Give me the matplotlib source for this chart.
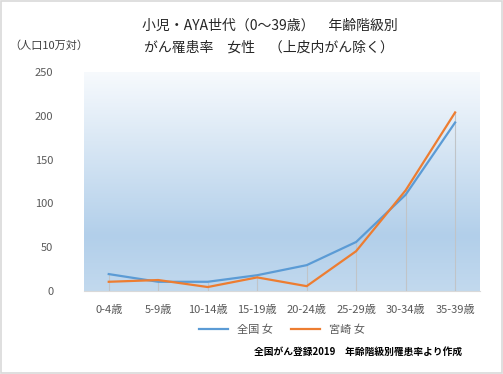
import numpy as np
import matplotlib.pyplot as plt
from matplotlib.colors import LinearSegmentedColormap
from matplotlib.patches import Rectangle

plt.rcParams['font.family'] = ['Noto Sans CJK JP', 'DejaVu Sans']

age_groups = ['0-4歳', '5-9歳', '10-14歳', '15-19歳', '20-24歳', '25-29歳', '30-34歳', '35-39歳']
zenkoku = [19.3, 10.5, 10.5, 18, 29.5, 56, 110, 192.5]
miyazaki = [10.5, 12.5, 4.5, 15.5, 5.5, 45.5, 115, 204]
series_names = ['全国 女', '宮崎 女']

fig = plt.figure(figsize=(5.03, 3.74), dpi=100)
ax = fig.add_axes([0.167, 0.222, 0.787, 0.585])

x = np.arange(len(age_groups))

# background gradient (white at top -> light blue -> slightly lighter at bottom)
cmap = LinearSegmentedColormap.from_list('bg', [(0.0, '#c2d9ee'), (0.25, '#b2cfea'), (1.0, '#f7fafd')])
grad = np.linspace(0, 1, 256).reshape(-1, 1)
ax.imshow(grad, cmap=cmap, aspect='auto', extent=[0, 1, 0, 1], transform=ax.transAxes,
          origin='lower', zorder=0)

# drop lines
tops = np.maximum(zenkoku, miyazaki)
ax.vlines(x, 0, tops, color='#c0c4c8', lw=0.8, zorder=1)

ax.plot(x, zenkoku, color='#5b9bd5', lw=1.6, label=series_names[0], zorder=3)
ax.plot(x, miyazaki, color='#ed7d31', lw=1.6, label=series_names[1], zorder=3)

ax.set_xlim(-0.5, len(age_groups) - 0.5)
ax.set_ylim(0, 250)
ax.set_yticks(range(0, 251, 50))
ax.set_xticks(x)
ax.set_xticklabels(age_groups)
ax.tick_params(axis='both', length=0, labelsize=8, labelcolor='#595959')
ax.tick_params(axis='x', pad=10)
ax.tick_params(axis='y', pad=22)
for s in ['top', 'right', 'left']:
    ax.spines[s].set_visible(False)
ax.spines['bottom'].set_color('#d9d9d9')

fig.text(0.537, 0.932, '小児・AYA世代（0～39歳）　年齢階級別', ha='center', va='center', fontsize=10, color='#262626')
fig.text(0.535, 0.874, 'がん罹患率　女性　（上皮内がん除く）', ha='center', va='center', fontsize=10, color='#262626')
fig.text(0.018, 0.879, '（人口10万対）', ha='left', va='center', fontsize=8, color='#404040')

ax.legend(loc='center', bbox_to_anchor=(0.5, -0.178), ncol=2, frameon=False,
          fontsize=8, handlelength=2.6, columnspacing=1.6, labelcolor='#595959')

fig.text(0.918, 0.059, '全国がん登録2019　年齢階級別罹患率より作成', ha='right', va='center',
         fontsize=7, fontweight='bold', color='black')

fig.patches.append(Rectangle((0.002, 0.003), 0.996, 0.994, transform=fig.transFigure,
                             fill=False, edgecolor='#d9d9d9', lw=1.2))

fig.savefig('out.png', dpi=100)
